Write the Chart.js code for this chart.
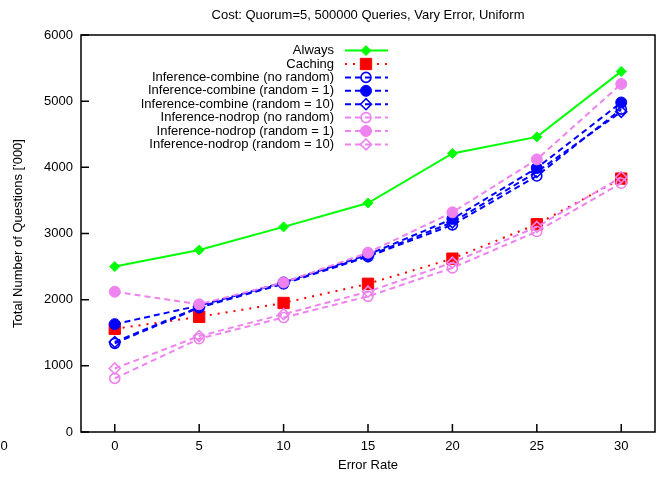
<!DOCTYPE html>
<html>
<head>
<meta charset="utf-8">
<script src="https://cdn.jsdelivr.net/npm/chart.js@4/dist/chart.umd.min.js"></script>
<style>
  html, body { margin: 0; padding: 0; background: #fff; }
  #wrap { width: 661px; height: 477px; }
</style>
</head>
<body>
<div id="wrap"><canvas id="costChart" width="661" height="477"></canvas></div>
<script>
const errorRates = [0, 5, 10, 15, 20, 25, 30];
const yTicks = [0, 1000, 2000, 3000, 4000, 5000, 6000];

const always          = [2500, 2750, 3100, 3460, 4210, 4460, 5450];
const caching         = [1560, 1740, 1950, 2240, 2620, 3140, 3830];
const combineNoRandom = [1340, 1880, 2240, 2650, 3130, 3870, 4880];
const combineRandom1  = [1630, 1910, 2260, 2680, 3220, 3990, 4980];
const combineRandom10 = [1360, 1890, 2250, 2660, 3170, 3930, 4840];
const nodropNoRandom  = [810, 1410, 1730, 2050, 2480, 3030, 3760];
const nodropRandom1   = [2120, 1930, 2260, 2710, 3320, 4120, 5260];
const nodropRandom10  = [960, 1450, 1780, 2120, 2560, 3100, 3850];

const titleText = 'Cost: Quorum=5, 500000 Queries, Vary Error, Uniform';
const FONT = '"Liberation Sans", Arial, sans-serif';
const FONT_SIZE = 13;

const GREEN = '#00ff00', RED = '#ff0000', BLUE = '#0000ff', VIOLET = '#ee82ee';
const NONE = 'rgba(0,0,0,0)';

function series(label, values, color, dash, style, radius, filled) {
  return {
    label: label,
    data: values.map((v, i) => ({ x: errorRates[i], y: v })),
    borderColor: color,
    borderWidth: 2,
    borderDash: dash,
    pointStyle: style,
    pointRadius: radius,
    pointBorderColor: color,
    pointBackgroundColor: filled ? color : NONE,
    pointBorderWidth: filled ? 1 : 1.6,
    fill: false,
    tension: 0
  };
}

const datasets = [
  series('Always', always, GREEN, [], 'rectRot', 5, true),
  series('Caching', caching, RED, [2, 6], 'rect', 8, true),
  series('Inference-combine (no random)', combineNoRandom, BLUE, [6, 4], 'circle', 5, false),
  series('Inference-combine (random = 1)', combineRandom1, BLUE, [6, 4], 'circle', 5.5, true),
  series('Inference-combine (random = 10)', combineRandom10, BLUE, [6, 4], 'rectRot', 5.5, false),
  series('Inference-nodrop (no random)', nodropNoRandom, VIOLET, [6, 4], 'circle', 5, false),
  series('Inference-nodrop (random = 1)', nodropRandom1, VIOLET, [6, 4], 'circle', 5.5, true),
  series('Inference-nodrop (random = 10)', nodropRandom10, VIOLET, [6, 4], 'rectRot', 5.5, false)
];
// later series are painted over earlier ones
datasets.forEach((d, i) => { d.order = datasets.length - i; });

// frame, inward ticks, title and the key inside the plot
const decorations = {
  id: 'decorations',
  afterDraw(chart) {
    const ctx = chart.ctx;
    const a = chart.chartArea;
    const xs = chart.scales.x, ys = chart.scales.y;
    ctx.save();

    ctx.strokeStyle = '#000';
    ctx.lineWidth = 1.5;
    ctx.setLineDash([]);
    ctx.strokeRect(a.left, a.top, a.right - a.left, a.bottom - a.top);

    ctx.beginPath();
    yTicks.forEach(v => {
      const y = ys.getPixelForValue(v);
      ctx.moveTo(a.left, y); ctx.lineTo(a.left + 8, y);
    });
    errorRates.forEach(v => {
      const x = xs.getPixelForValue(v);
      ctx.moveTo(x, a.bottom); ctx.lineTo(x, a.bottom - 8);
    });
    ctx.stroke();

    ctx.fillStyle = '#000';
    ctx.font = FONT_SIZE + 'px ' + FONT;
    ctx.textAlign = 'center';
    ctx.textBaseline = 'middle';
    ctx.fillText(titleText, (a.left + a.right) / 2, 15);
    ctx.fillText('0', 4, 446);

    // key
    const textRight = 334, lineL = 345, lineR = 388, markX = 366;
    chart.data.datasets.forEach((d, i) => {
      const y = 50.6 + i * 13.4;
      ctx.fillStyle = '#000';
      ctx.textAlign = 'right';
      ctx.fillText(d.label, textRight, y);

      ctx.strokeStyle = d.borderColor;
      ctx.lineWidth = d.borderWidth;
      ctx.setLineDash(d.borderDash);
      ctx.beginPath();
      ctx.moveTo(lineL, y); ctx.lineTo(lineR, y);
      ctx.stroke();
      ctx.setLineDash([]);

      ctx.fillStyle = d.pointBackgroundColor;
      ctx.strokeStyle = d.pointBorderColor;
      ctx.lineWidth = d.pointBorderWidth;
      Chart.helpers.drawPoint(ctx, {
        pointStyle: d.pointStyle,
        radius: d.pointRadius,
        borderWidth: d.pointBorderWidth,
        rotation: 0
      }, markX, y);
    });
    ctx.restore();
  }
};

new Chart(document.getElementById('costChart'), {
  type: 'line',
  data: { datasets: datasets },
  options: {
    responsive: false,
    animation: false,
    layout: { autoPadding: false, padding: { top: 35, right: 6, bottom: 0, left: 0 } },
    plugins: {
      legend: { display: false },
      title: { display: false },
      tooltip: { enabled: false }
    },
    scales: {
      x: {
        type: 'linear',
        min: -2,
        max: 32,
        afterBuildTicks: s => { s.ticks = errorRates.map(v => ({ value: v })); },
        afterFit: s => { s.height = 45; s.paddingLeft = 0; s.paddingRight = 0; },
        grid: { display: false, drawTicks: false },
        border: { display: false },
        ticks: { color: '#000', font: { family: FONT, size: FONT_SIZE }, padding: 7, maxRotation: 0 },
        title: { display: true, text: 'Error Rate', color: '#000',
                 font: { family: FONT, size: FONT_SIZE }, padding: { top: 0, bottom: 4 } }
      },
      y: {
        type: 'linear',
        min: 0,
        max: 6000,
        afterBuildTicks: s => { s.ticks = yTicks.map(v => ({ value: v })); },
        afterFit: s => { s.width = 81; s.paddingTop = 0; s.paddingBottom = 0; },
        grid: { display: false, drawTicks: false },
        border: { display: false },
        ticks: { color: '#000', font: { family: FONT, size: FONT_SIZE }, padding: 8,
                 callback: v => String(v) },
        title: { display: true, text: "Total Number of Questions ['000]", color: '#000',
                 font: { family: FONT, size: FONT_SIZE }, padding: { top: 10.5, bottom: 0 } }
      }
    }
  },
  plugins: [decorations]
});
</script>
</body>
</html>
